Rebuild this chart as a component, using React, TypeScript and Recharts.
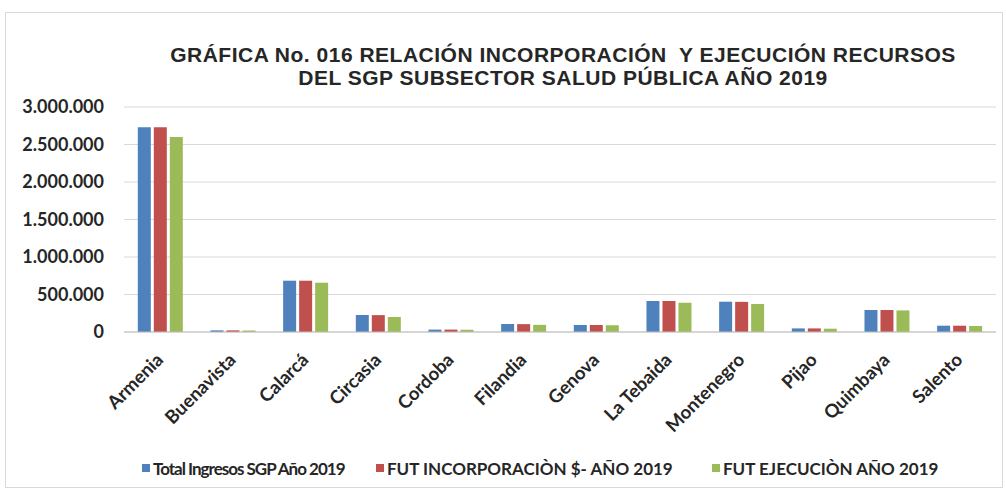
import React from "react";
import { BarChart, Bar, XAxis, YAxis, CartesianGrid } from "recharts";

const categories = ["Armenia", "Buenavista", "Calarcá", "Circasia", "Cordoba", "Filandia", "Genova", "La Tebaida", "Montenegro", "Pijao", "Quimbaya", "Salento"];
const totalIngresos = [2730000, 22000, 684000, 227000, 32000, 107000, 93000, 413000, 404000, 48000, 293000, 84000];
const futIncorporacion = [2730000, 22000, 684000, 225000, 32000, 105000, 93000, 413000, 402000, 48000, 293000, 84000];
const futEjecucion = [2600000, 20000, 657000, 200000, 30000, 95000, 90000, 390000, 373000, 44000, 288000, 80000];
const seriesNames = ["Total Ingresos SGP Año 2019", "FUT INCORPORACIÒN $- AÑO 2019", "FUT EJECUCIÒN AÑO 2019"];
const seriesColors = ["#4F81BD", "#C0504D", "#9BBB59"];
const yTicks = [0, 500000, 1000000, 1500000, 2000000, 2500000, 3000000];
const titleLines = ["GRÁFICA No. 016 RELACIÓN INCORPORACIÓN  Y EJECUCIÓN RECURSOS", "DEL SGP SUBSECTOR SALUD PÚBLICA AÑO 2019"];

const data = categories.map((c, i) => ({
  name: c,
  s0: totalIngresos[i],
  s1: futIncorporacion[i],
  s2: futEjecucion[i],
}));

const fmt = (v: number) => v.toLocaleString("de-DE");

const XTick = (props: any) => {
  const { x, y, payload } = props;
  return (
    <g transform={`translate(${x + 4},${y + 21})`}>
      <text transform="rotate(-45)" textAnchor="end" fontFamily="Lato, sans-serif" fontWeight="bold" fontSize={18.5} fill="#262626">
        {payload.value}
      </text>
    </g>
  );
};

const legendLeft = [142, 376, 712];
const legendSpacing = [-1, 0, 0];

export default function App() {
  return (
    <div style={{ position: "absolute", left: 0, top: 0, width: 1006, height: 491, background: "#fff", overflow: "hidden" }}>
      <div style={{ position: "absolute", left: 5, top: 12, width: 996, height: 474, border: "1px solid #d9d9d9" }} />
      <div style={{ position: "absolute", left: 0, top: 43, width: 1126, textAlign: "center", fontFamily: "'Liberation Sans', Arial, sans-serif", fontWeight: "bold", fontSize: 21, lineHeight: "23px", color: "#262626", letterSpacing: 0.5, whiteSpace: "pre" }}>
        <div>{titleLines[0]}</div>
        <div>{titleLines[1]}</div>
      </div>
      <BarChart
        width={1006}
        height={491}
        data={data}
        margin={{ top: 107, right: 10, left: 14, bottom: 59 }}
        barCategoryGap="19%"
        barGap={3}
        style={{ position: "absolute", left: 0, top: 0 }}
      >
        <CartesianGrid vertical={false} stroke="#d9d9d9" />
        <XAxis
          dataKey="name"
          interval={0}
          height={100}
          tickLine={false}
          axisLine={{ stroke: "#bfbfbf" }}
          tick={<XTick />}
        />
        <YAxis
          width={110}
          domain={[0, 3000000]}
          ticks={yTicks}
          tickFormatter={fmt}
          axisLine={false}
          tickLine={false}
          tick={{ fontFamily: "Lato, sans-serif", fontSize: 18, fontWeight: "bold", fill: "#262626", dx: -12 }}
        />
        <Bar dataKey="s0" name={seriesNames[0]} fill={seriesColors[0]} isAnimationActive={false} />
        <Bar dataKey="s1" name={seriesNames[1]} fill={seriesColors[1]} isAnimationActive={false} />
        <Bar dataKey="s2" name={seriesNames[2]} fill={seriesColors[2]} isAnimationActive={false} />
      </BarChart>
      {seriesNames.map((n, i) => (
        <div key={n} style={{ position: "absolute", left: legendLeft[i], top: 456, height: 24, display: "flex", alignItems: "center", fontFamily: "Lato, sans-serif", fontWeight: "bold", fontSize: 17, letterSpacing: legendSpacing[i], color: "#262626", whiteSpace: "pre" }}>
          <span style={{ display: "inline-block", width: 8, height: 8, background: seriesColors[i], marginRight: 3 }} />
          <span>{n}</span>
        </div>
      ))}
    </div>
  );
}
